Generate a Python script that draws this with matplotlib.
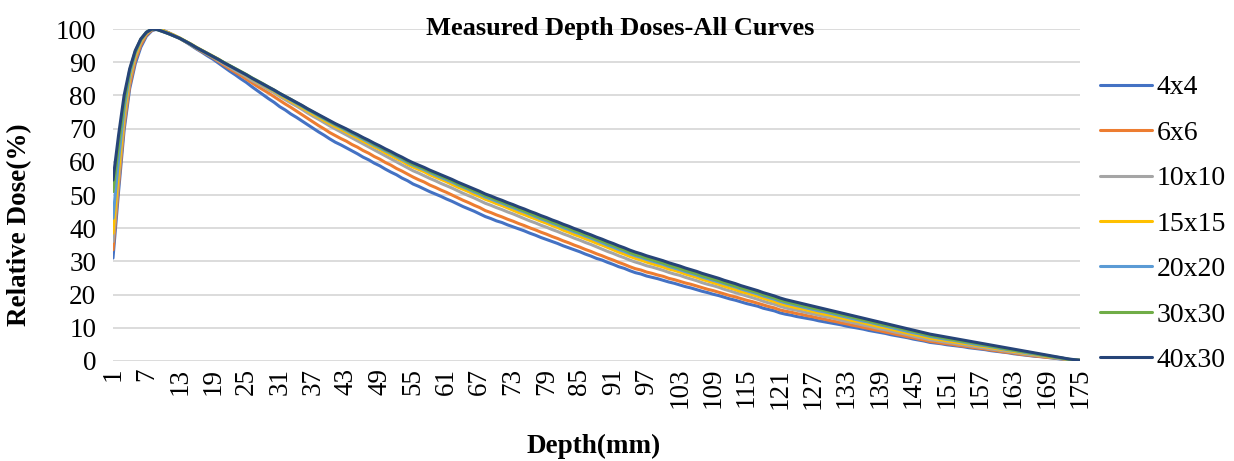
import matplotlib
matplotlib.use("Agg")
import matplotlib.pyplot as plt

depth_mm = list(range(1, 176))
tick_labels = [str(d) for d in range(1, 176, 6)]

dose_4x4 = [
    31.0, 51.0, 69.5, 82.0, 89.5, 94.5, 97.8, 99.5, 100.0, 99.6,
    98.9, 98.1, 97.2, 96.2, 95.1, 94.0, 93.0, 91.9, 90.9, 89.7,
    88.5, 87.3, 86.2, 85.0, 83.9, 82.6, 81.4, 80.2, 79.0, 77.9,
    76.6, 75.6, 74.4, 73.4, 72.3, 71.2, 70.1, 69.0, 68.0, 66.9,
    65.9, 65.1, 64.2, 63.3, 62.4, 61.4, 60.6, 59.6, 58.8, 57.8,
    56.9, 56.1, 55.1, 54.3, 53.3, 52.6, 51.8, 51.0, 50.3, 49.6,
    48.8, 48.1, 47.3, 46.5, 45.8, 45.1, 44.3, 43.5, 42.9, 42.2,
    41.7, 41.0, 40.4, 39.8, 39.2, 38.5, 37.9, 37.2, 36.6, 36.0,
    35.4, 34.7, 34.1, 33.5, 32.9, 32.2, 31.6, 30.9, 30.4, 29.7,
    29.1, 28.4, 27.9, 27.2, 26.6, 26.2, 25.6, 25.2, 24.8, 24.3,
    23.8, 23.4, 22.9, 22.4, 22.0, 21.5, 21.0, 20.6, 20.1, 19.7,
    19.2, 18.7, 18.3, 17.8, 17.3, 16.9, 16.5, 15.9, 15.5, 15.1,
    14.5, 14.1, 13.8, 13.4, 13.1, 12.8, 12.5, 12.1, 11.8, 11.5,
    11.2, 10.9, 10.5, 10.2, 9.9, 9.6, 9.2, 8.9, 8.6, 8.3,
    7.9, 7.6, 7.3, 7.0, 6.6, 6.3, 6.0, 5.6, 5.4, 5.2,
    4.9, 4.7, 4.5, 4.3, 4.0, 3.8, 3.6, 3.4, 3.1, 2.9,
    2.7, 2.5, 2.2, 2.0, 1.8, 1.6, 1.4, 1.3, 1.1, 0.9,
    0.7, 0.5, 0.4, 0.3, 0.2,
]

dose_6x6 = [
    33.5, 53.0, 71.0, 83.0, 90.5, 95.2, 98.2, 99.7, 100.0, 99.5,
    98.8, 98.0, 97.2, 96.2, 95.3, 94.2, 93.2, 92.3, 91.3, 90.2,
    89.1, 88.0, 87.0, 86.0, 84.9, 83.8, 82.7, 81.7, 80.7, 79.6,
    78.5, 77.4, 76.4, 75.3, 74.2, 73.1, 72.0, 70.9, 69.9, 68.8,
    67.9, 67.0, 66.2, 65.2, 64.4, 63.4, 62.6, 61.6, 60.8, 59.8,
    59.0, 58.0, 57.2, 56.3, 55.4, 54.6, 53.9, 53.0, 52.3, 51.5,
    50.8, 50.0, 49.2, 48.4, 47.7, 46.9, 46.2, 45.3, 44.7, 44.0,
    43.4, 42.7, 42.1, 41.4, 40.8, 40.1, 39.5, 38.8, 38.2, 37.5,
    36.9, 36.2, 35.6, 34.9, 34.3, 33.6, 33.0, 32.3, 31.7, 31.0,
    30.4, 29.7, 29.1, 28.4, 27.8, 27.4, 26.8, 26.4, 25.9, 25.5,
    24.9, 24.5, 24.0, 23.5, 23.1, 22.6, 22.1, 21.6, 21.2, 20.7,
    20.2, 19.7, 19.3, 18.8, 18.3, 17.9, 17.4, 16.9, 16.4, 16.0,
    15.4, 15.0, 14.7, 14.3, 14.0, 13.6, 13.3, 12.9, 12.6, 12.2,
    11.9, 11.5, 11.2, 10.8, 10.5, 10.1, 9.8, 9.4, 9.1, 8.7,
    8.4, 8.0, 7.7, 7.3, 7.0, 6.6, 6.3, 5.9, 5.7, 5.4,
    5.2, 5.0, 4.7, 4.5, 4.3, 4.0, 3.8, 3.6, 3.3, 3.1,
    2.8, 2.6, 2.4, 2.1, 1.9, 1.7, 1.5, 1.3, 1.1, 1.0,
    0.8, 0.6, 0.4, 0.3, 0.2,
]

dose_10x10 = [
    36.0, 55.0, 72.5, 84.5, 91.5, 96.0, 98.6, 99.9, 99.9, 99.4,
    98.7, 98.0, 97.2, 96.3, 95.3, 94.3, 93.4, 92.4, 91.5, 90.5,
    89.5, 88.5, 87.5, 86.6, 85.6, 84.5, 83.6, 82.7, 81.7, 80.8,
    79.7, 78.7, 77.7, 76.8, 75.8, 74.7, 73.7, 72.8, 71.8, 70.8,
    69.9, 69.0, 68.1, 67.2, 66.3, 65.4, 64.5, 63.6, 62.7, 61.8,
    60.9, 60.0, 59.1, 58.2, 57.3, 56.6, 55.8, 55.0, 54.3, 53.5,
    52.8, 52.1, 51.3, 50.5, 49.8, 49.1, 48.3, 47.5, 46.9, 46.2,
    45.6, 44.9, 44.3, 43.6, 42.9, 42.2, 41.6, 40.9, 40.3, 39.6,
    39.0, 38.3, 37.7, 37.0, 36.4, 35.7, 35.1, 34.4, 33.7, 33.0,
    32.4, 31.7, 31.1, 30.4, 29.8, 29.3, 28.7, 28.3, 27.8, 27.3,
    26.7, 26.2, 25.8, 25.2, 24.7, 24.2, 23.6, 23.1, 22.7, 22.2,
    21.6, 21.1, 20.6, 20.1, 19.6, 19.1, 18.6, 18.0, 17.5, 17.1,
    16.5, 16.0, 15.6, 15.3, 14.9, 14.5, 14.2, 13.8, 13.4, 13.1,
    12.7, 12.3, 11.9, 11.6, 11.2, 10.8, 10.5, 10.1, 9.7, 9.4,
    9.0, 8.6, 8.3, 7.9, 7.5, 7.1, 6.8, 6.4, 6.2, 5.9,
    5.6, 5.4, 5.1, 4.9, 4.6, 4.4, 4.1, 3.9, 3.6, 3.4,
    3.1, 2.9, 2.6, 2.4, 2.1, 1.9, 1.7, 1.5, 1.3, 1.1,
    0.8, 0.6, 0.4, 0.3, 0.2,
]

dose_15x15 = [
    38.5, 57.0, 74.0, 85.5, 92.0, 96.3, 98.8, 100.0, 99.9, 99.5,
    98.8, 98.1, 97.3, 96.4, 95.5, 94.5, 93.6, 92.7, 91.8, 90.9,
    89.8, 88.9, 87.9, 87.0, 86.0, 85.0, 84.0, 83.1, 82.1, 81.2,
    80.1, 79.2, 78.2, 77.3, 76.3, 75.3, 74.3, 73.4, 72.4, 71.5,
    70.6, 69.8, 68.9, 68.0, 67.2, 66.2, 65.4, 64.5, 63.7, 62.7,
    61.9, 61.0, 60.2, 59.2, 58.4, 57.7, 57.0, 56.1, 55.4, 54.7,
    54.0, 53.2, 52.4, 51.7, 51.0, 50.2, 49.5, 48.7, 48.1, 47.4,
    46.8, 46.1, 45.4, 44.7, 44.1, 43.4, 42.8, 42.1, 41.5, 40.8,
    40.2, 39.4, 38.8, 38.1, 37.5, 36.8, 36.2, 35.5, 34.9, 34.2,
    33.5, 32.8, 32.2, 31.5, 30.9, 30.4, 29.8, 29.3, 28.8, 28.3,
    27.7, 27.3, 26.8, 26.2, 25.7, 25.2, 24.6, 24.1, 23.6, 23.1,
    22.5, 22.0, 21.5, 20.9, 20.5, 20.0, 19.5, 18.9, 18.4, 17.9,
    17.3, 16.8, 16.4, 16.0, 15.7, 15.3, 14.9, 14.5, 14.1, 13.8,
    13.4, 13.0, 12.6, 12.2, 11.9, 11.5, 11.1, 10.7, 10.3, 10.0,
    9.6, 9.2, 8.8, 8.4, 8.0, 7.7, 7.3, 6.9, 6.6, 6.4,
    6.1, 5.8, 5.6, 5.3, 5.1, 4.8, 4.5, 4.3, 4.0, 3.7,
    3.5, 3.2, 2.9, 2.7, 2.4, 2.2, 1.9, 1.7, 1.4, 1.2,
    1.0, 0.7, 0.5, 0.3, 0.2,
]

dose_20x20 = [
    43.0, 60.5, 76.0, 86.5, 92.8, 96.7, 99.0, 100.0, 99.8, 99.3,
    98.6, 97.9, 97.2, 96.3, 95.4, 94.4, 93.5, 92.6, 91.7, 90.8,
    89.8, 88.9, 87.9, 87.0, 86.1, 85.1, 84.2, 83.2, 82.3, 81.4,
    80.4, 79.5, 78.6, 77.6, 76.7, 75.7, 74.8, 73.8, 72.9, 72.0,
    71.1, 70.3, 69.4, 68.5, 67.7, 66.8, 65.9, 65.0, 64.2, 63.3,
    62.5, 61.6, 60.7, 59.8, 59.0, 58.3, 57.6, 56.8, 56.0, 55.3,
    54.6, 53.9, 53.1, 52.4, 51.7, 50.9, 50.2, 49.4, 48.8, 48.1,
    47.5, 46.8, 46.2, 45.5, 44.9, 44.2, 43.5, 42.8, 42.2, 41.5,
    40.9, 40.2, 39.6, 38.9, 38.3, 37.6, 37.0, 36.3, 35.6, 34.9,
    34.3, 33.6, 33.0, 32.3, 31.7, 31.2, 30.6, 30.1, 29.6, 29.1,
    28.5, 28.0, 27.5, 26.9, 26.4, 25.9, 25.3, 24.8, 24.3, 23.8,
    23.3, 22.8, 22.3, 21.7, 21.2, 20.7, 20.2, 19.6, 19.1, 18.6,
    18.0, 17.5, 17.1, 16.7, 16.3, 15.9, 15.5, 15.1, 14.8, 14.4,
    14.0, 13.6, 13.2, 12.8, 12.4, 12.0, 11.7, 11.3, 10.9, 10.5,
    10.1, 9.7, 9.3, 8.9, 8.5, 8.2, 7.8, 7.4, 7.1, 6.8,
    6.5, 6.3, 6.0, 5.7, 5.4, 5.1, 4.8, 4.6, 4.3, 4.0,
    3.7, 3.4, 3.2, 2.9, 2.6, 2.3, 2.1, 1.8, 1.6, 1.3,
    1.0, 0.8, 0.5, 0.4, 0.2,
]

dose_30x30 = [
    51.0, 65.0, 78.0, 87.5, 93.2, 96.9, 99.0, 100.0, 99.8, 99.2,
    98.6, 97.9, 97.2, 96.3, 95.4, 94.4, 93.5, 92.6, 91.7, 90.8,
    89.9, 89.0, 88.1, 87.2, 86.3, 85.3, 84.4, 83.5, 82.5, 81.6,
    80.6, 79.7, 78.8, 77.8, 76.9, 75.9, 75.0, 74.0, 73.1, 72.2,
    71.3, 70.5, 69.7, 68.8, 68.0, 67.1, 66.3, 65.3, 64.5, 63.6,
    62.8, 61.9, 61.1, 60.1, 59.3, 58.6, 57.9, 57.1, 56.4, 55.7,
    55.0, 54.3, 53.4, 52.7, 52.0, 51.3, 50.6, 49.8, 49.2, 48.5,
    47.9, 47.2, 46.6, 45.9, 45.2, 44.5, 43.9, 43.2, 42.6, 41.9,
    41.3, 40.6, 40.0, 39.3, 38.7, 38.0, 37.4, 36.7, 36.1, 35.4,
    34.8, 34.1, 33.5, 32.7, 32.1, 31.6, 31.0, 30.5, 30.0, 29.5,
    28.9, 28.4, 27.9, 27.3, 26.8, 26.3, 25.7, 25.2, 24.7, 24.2,
    23.6, 23.1, 22.6, 22.0, 21.6, 21.1, 20.6, 20.0, 19.5, 19.0,
    18.4, 17.9, 17.5, 17.1, 16.7, 16.3, 15.9, 15.6, 15.2, 14.8,
    14.4, 14.0, 13.6, 13.2, 12.8, 12.4, 12.0, 11.6, 11.2, 10.8,
    10.5, 10.1, 9.7, 9.3, 8.9, 8.5, 8.1, 7.7, 7.4, 7.1,
    6.8, 6.5, 6.2, 5.9, 5.7, 5.4, 5.1, 4.8, 4.5, 4.2,
    3.9, 3.6, 3.3, 3.0, 2.8, 2.5, 2.2, 1.9, 1.6, 1.3,
    1.1, 0.8, 0.5, 0.3, 0.2,
]

dose_40x30 = [
    54.5, 68.0, 80.0, 88.0, 93.5, 97.0, 99.0, 100.0, 99.8, 99.2,
    98.6, 97.9, 97.2, 96.3, 95.4, 94.4, 93.5, 92.6, 91.7, 90.8,
    89.8, 88.9, 88.0, 87.1, 86.2, 85.2, 84.3, 83.4, 82.5, 81.6,
    80.6, 79.7, 78.8, 77.9, 77.0, 76.0, 75.1, 74.2, 73.3, 72.4,
    71.5, 70.7, 69.9, 69.0, 68.2, 67.3, 66.5, 65.6, 64.8, 63.9,
    63.1, 62.2, 61.4, 60.5, 59.7, 59.0, 58.3, 57.5, 56.8, 56.1,
    55.4, 54.7, 53.9, 53.2, 52.5, 51.8, 51.1, 50.3, 49.7, 49.0,
    48.4, 47.7, 47.1, 46.4, 45.8, 45.1, 44.5, 43.8, 43.2, 42.5,
    41.9, 41.2, 40.6, 39.9, 39.3, 38.6, 38.0, 37.3, 36.7, 36.0,
    35.4, 34.7, 34.1, 33.4, 32.8, 32.3, 31.7, 31.2, 30.7, 30.2,
    29.6, 29.1, 28.6, 28.0, 27.5, 27.0, 26.4, 25.9, 25.4, 24.9,
    24.3, 23.8, 23.3, 22.7, 22.2, 21.7, 21.2, 20.6, 20.1, 19.6,
    19.0, 18.5, 18.1, 17.7, 17.3, 16.9, 16.5, 16.1, 15.7, 15.3,
    14.9, 14.5, 14.1, 13.7, 13.3, 12.9, 12.5, 12.1, 11.7, 11.3,
    10.9, 10.5, 10.1, 9.7, 9.3, 8.9, 8.5, 8.1, 7.8, 7.5,
    7.2, 6.9, 6.6, 6.3, 6.0, 5.7, 5.4, 5.1, 4.8, 4.5,
    4.2, 3.9, 3.6, 3.3, 3.0, 2.7, 2.4, 2.1, 1.8, 1.5,
    1.2, 0.9, 0.6, 0.4, 0.2,
]

series_names = ["4x4", "6x6", "10x10", "15x15", "20x20", "30x30", "40x30"]
series_values = [dose_4x4, dose_6x6, dose_10x10, dose_15x15,
                 dose_20x20, dose_30x30, dose_40x30]
series_colors = ["#4472C4", "#ED7D31", "#A5A5A5", "#FFC000",
                 "#5B9BD5", "#70AD47", "#264478"]

W, H = 1234, 461
fig = plt.figure(figsize=(W / 100, H / 100), dpi=100)
serif = ["Liberation Serif", "DejaVu Serif"]

left, right = 113 / W, 1080 / W
bottom, top = 1 - 361 / H, 1 - 29 / H
ax = fig.add_axes([left, bottom, right - left, top - bottom])

for name, vals, col in zip(series_names, series_values, series_colors):
    ax.plot(depth_mm, vals, color=col, lw=2.2, label=name,
            solid_joinstyle="round", solid_capstyle="round")

ax.set_xlim(1, 175)
ax.set_ylim(0, 100)
ax.set_yticks(range(0, 101, 10))
ax.set_xticks(range(1, 176, 6))
ax.set_xticklabels(tick_labels, rotation=90, family=serif, fontsize=19.5)
for lab in ax.get_yticklabels():
    lab.set_family(serif)
    lab.set_fontsize(19.5)
ax.tick_params(length=0, pad=5)
ax.tick_params(axis="y", pad=12)
ax.grid(axis="y", color="#D9D9D9", lw=1.3)
ax.set_axisbelow(True)
for s in ax.spines.values():
    s.set_visible(False)

fig.text(620 / W, 1 - 28 / H, "Measured Depth Doses-All Curves",
         ha="center", va="center", family=serif, fontsize=19, fontweight="bold")
fig.text(20 / W, 1 - 225 / H, "Relative Dose(%)", rotation=90,
         ha="center", va="center", family=serif, fontsize=19.5, fontweight="bold")
fig.text(594 / W, 1 - 446 / H, "Depth(mm)",
         ha="center", va="center", family=serif, fontsize=19.5, fontweight="bold")

leg = ax.legend(loc="center left", bbox_to_anchor=(1100 / W, 1 - 224 / H),
                bbox_transform=fig.transFigure, frameon=False,
                prop={"family": serif, "size": 20}, handlelength=1.87,
                handletextpad=0.18, labelspacing=0.72, borderpad=0,
                borderaxespad=0)

fig.savefig("out.png", dpi=100)
